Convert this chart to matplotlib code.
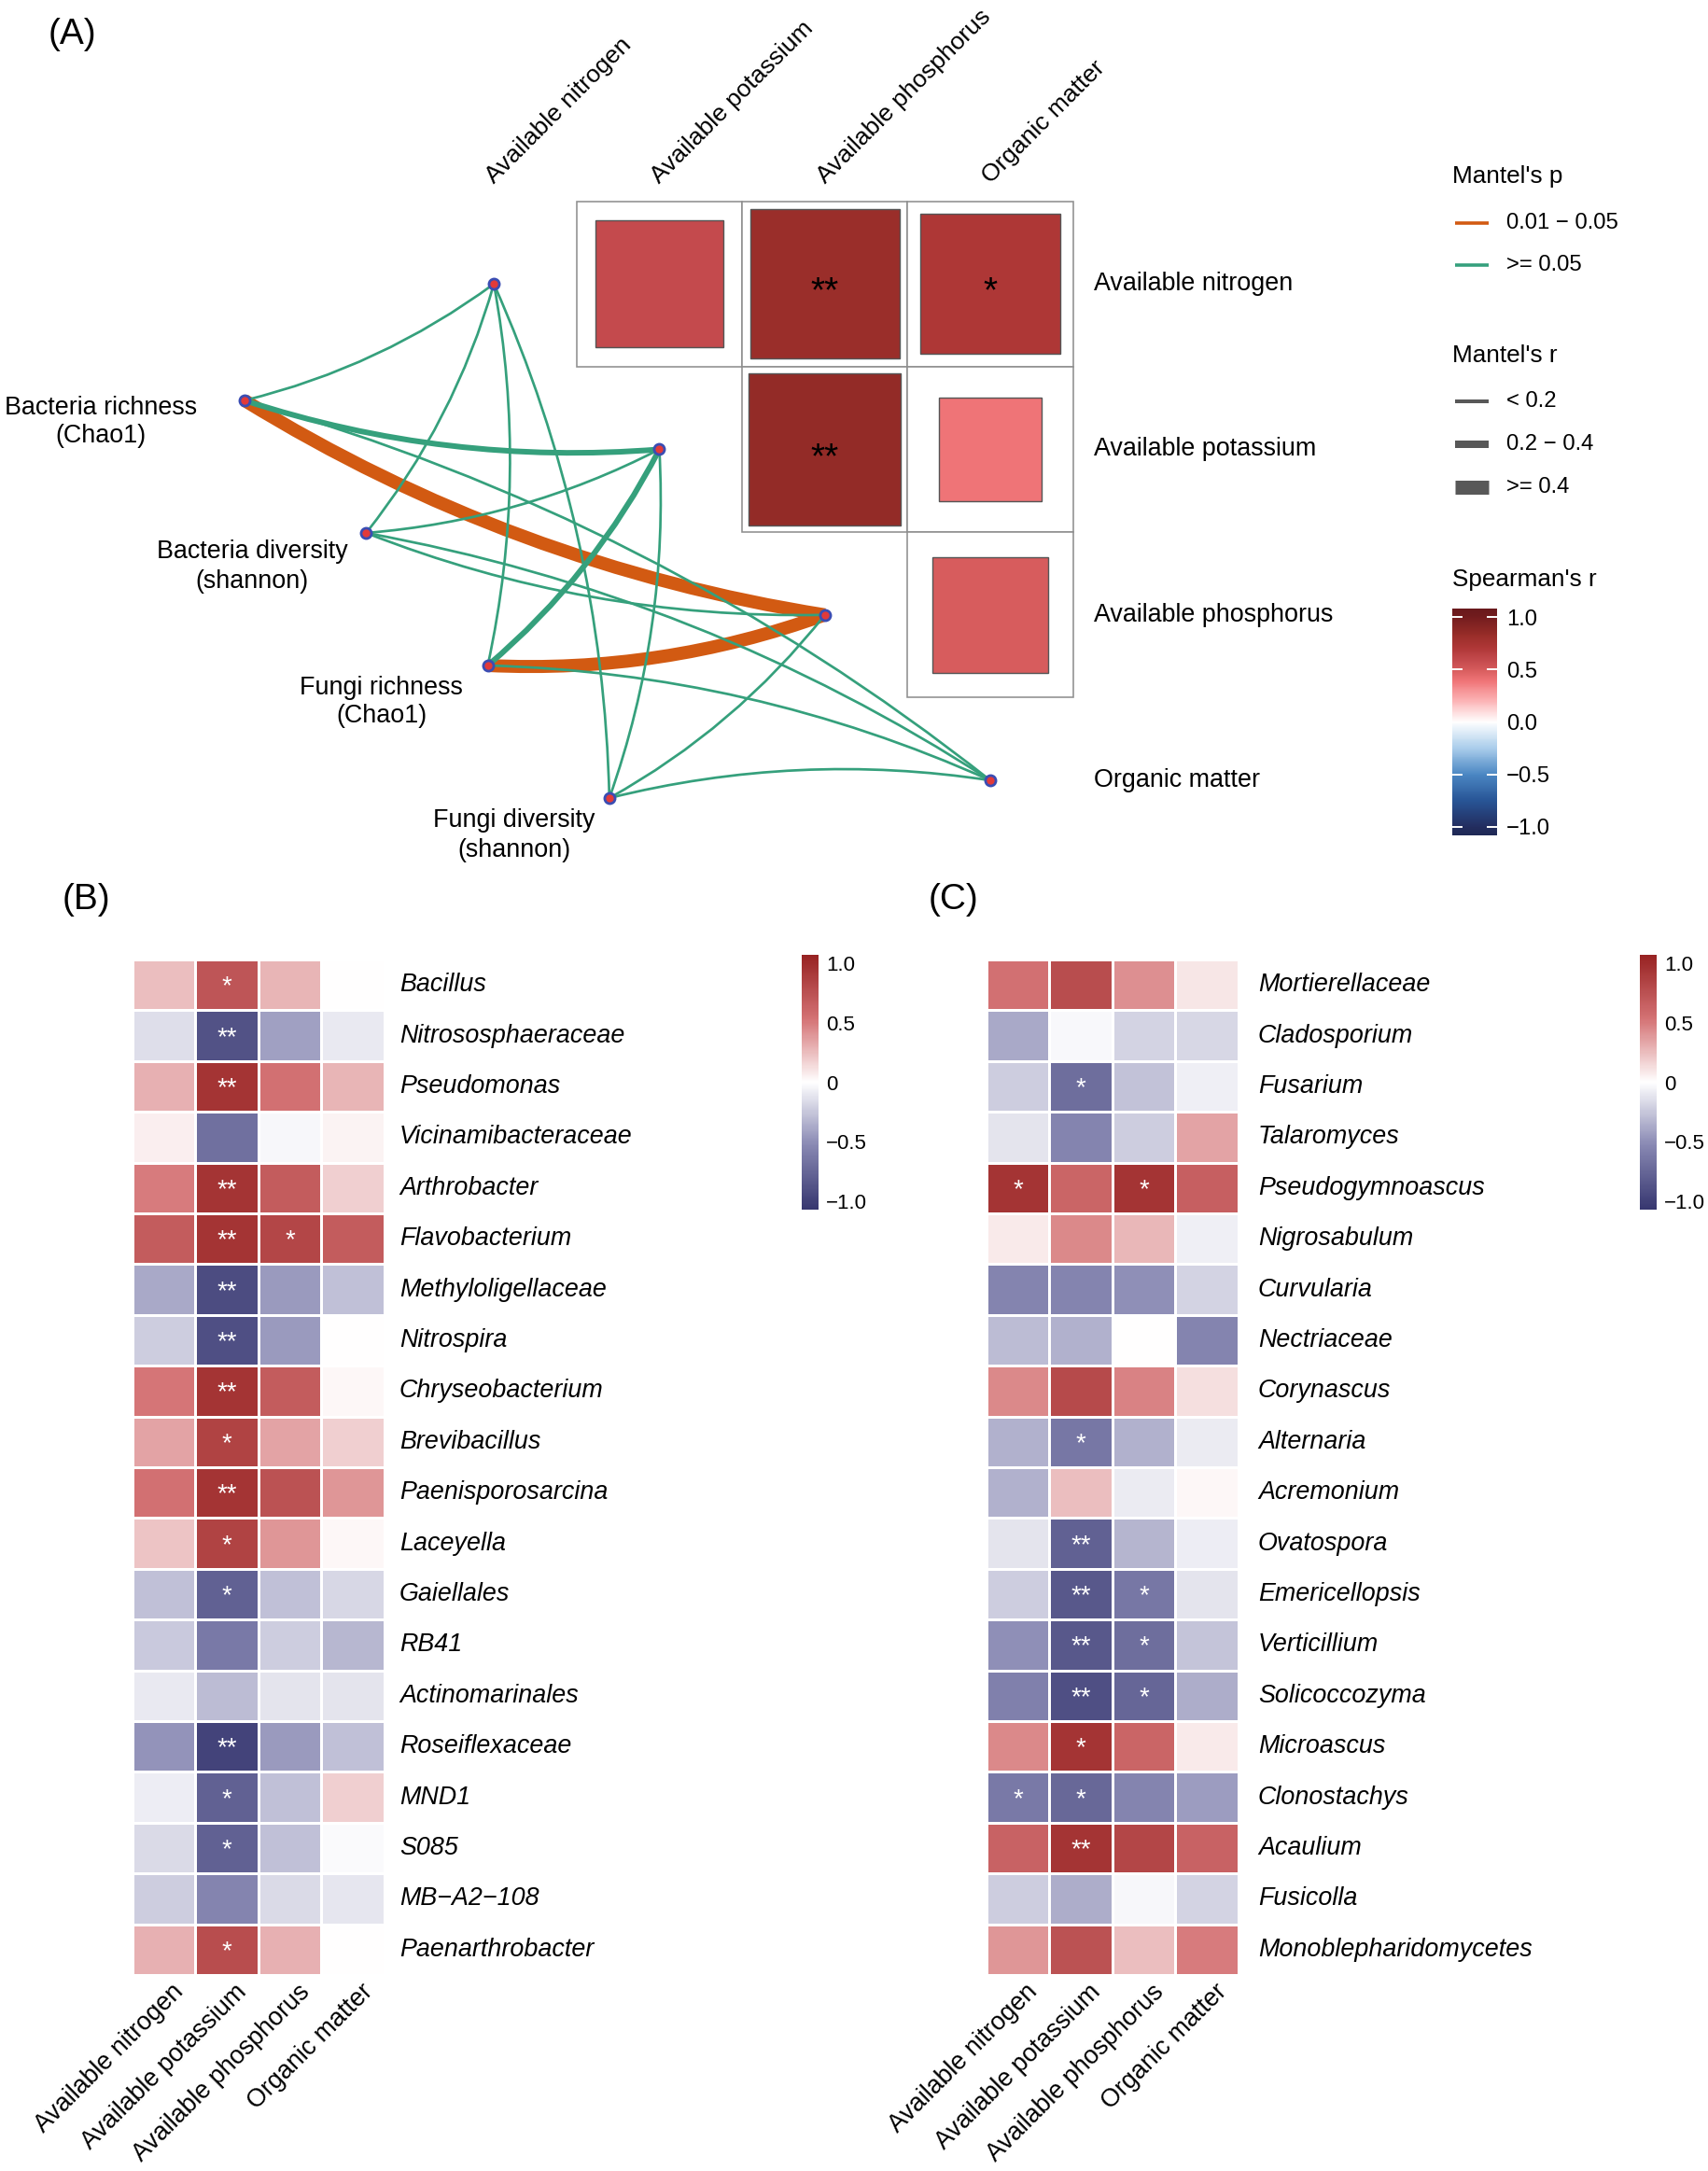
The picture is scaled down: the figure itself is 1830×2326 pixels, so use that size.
import numpy as np
import matplotlib
matplotlib.use("Agg")
import matplotlib.pyplot as plt
from matplotlib.colors import LinearSegmentedColormap, Normalize
from matplotlib.patches import Rectangle, PathPatch
from matplotlib.path import Path
import matplotlib.colorbar as mcolorbar

plt.rcParams['font.family'] = ['Liberation Sans', 'DejaVu Sans']

# ======================= DATA =======================
env_vars = ["Available nitrogen", "Available potassium", "Available phosphorus", "Organic matter"]
species_labels = ["Bacteria richness\n(Chao1)", "Bacteria diversity\n(shannon)",
                  "Fungi richness\n(Chao1)", "Fungi diversity\n(shannon)"]

# Spearman's r among soil properties (upper triangle pairs)
env_pairs = [(0, 1), (0, 2), (0, 3), (1, 2), (1, 3), (2, 3)]
env_r = [0.59, 0.81, 0.71, 0.85, 0.39, 0.49]
env_sig = ["", "**", "*", "**", "", ""]

# Mantel classes (rows: species, cols: env)  r: 0 "<0.2", 1 "0.2-0.4", 2 ">=0.4";  p: 0 "0.01-0.05", 1 ">=0.05"
mantel_r_class = [[0, 1, 2, 0], [0, 0, 0, 0], [0, 1, 2, 0], [0, 0, 0, 0]]
mantel_p_class = [[1, 1, 0, 1], [1, 1, 1, 1], [1, 1, 0, 1], [1, 1, 1, 1]]
mantel_r_labels = ["< 0.2", "0.2 \u2212 0.4", ">= 0.4"]
mantel_p_labels = ["0.01 \u2212 0.05", ">= 0.05"]
spearman_ticks = [1.0, 0.5, 0.0, -0.5, -1.0]
spearman_ticklabels = ["1.0", "0.5", "0.0", "\u22120.5", "\u22121.0"]

heat_cols = ["Available nitrogen", "Available potassium", "Available phosphorus", "Organic matter"]

bac_taxa = ["Bacillus", "Nitrososphaeraceae", "Pseudomonas", "Vicinamibacteraceae", "Arthrobacter",
            "Flavobacterium", "Methyloligellaceae", "Nitrospira", "Chryseobacterium", "Brevibacillus",
            "Paenisporosarcina", "Laceyella", "Gaiellales", "RB41", "Actinomarinales",
            "Roseiflexaceae", "MND1", "S085", "MB\u2212A2\u2212108", "Paenarthrobacter"]
bac_r = [
    [0.25, 0.72, 0.28, 0.00],
    [-0.15, -0.88, -0.42, -0.10],
    [0.30, 0.95, 0.55, 0.28],
    [0.06, -0.68, -0.04, 0.05],
    [0.50, 0.95, 0.68, 0.18],
    [0.68, 0.95, 0.82, 0.68],
    [-0.38, -0.92, -0.45, -0.28],
    [-0.22, -0.90, -0.45, 0.00],
    [0.52, 0.95, 0.68, 0.03],
    [0.35, 0.85, 0.35, 0.18],
    [0.55, 0.95, 0.75, 0.40],
    [0.22, 0.85, 0.40, 0.03],
    [-0.28, -0.78, -0.28, -0.18],
    [-0.24, -0.62, -0.22, -0.32],
    [-0.10, -0.30, -0.12, -0.12],
    [-0.48, -0.98, -0.45, -0.28],
    [-0.08, -0.78, -0.28, 0.18],
    [-0.16, -0.78, -0.28, -0.02],
    [-0.22, -0.56, -0.16, -0.11],
    [0.30, 0.78, 0.30, 0.00],
]
bac_sig = [
    ["", "*", "", ""], ["", "**", "", ""], ["", "**", "", ""], ["", "", "", ""],
    ["", "**", "", ""], ["", "**", "*", ""], ["", "**", "", ""], ["", "**", "", ""],
    ["", "**", "", ""], ["", "*", "", ""], ["", "**", "", ""], ["", "*", "", ""],
    ["", "*", "", ""], ["", "", "", ""], ["", "", "", ""], ["", "**", "", ""],
    ["", "*", "", ""], ["", "*", "", ""], ["", "", "", ""], ["", "*", "", ""],
]

fun_taxa = ["Mortierellaceae", "Cladosporium", "Fusarium", "Talaromyces", "Pseudogymnoascus",
            "Nigrosabulum", "Curvularia", "Nectriaceae", "Corynascus", "Alternaria",
            "Acremonium", "Ovatospora", "Emericellopsis", "Verticillium", "Solicoccozyma",
            "Microascus", "Clonostachys", "Acaulium", "Fusicolla", "Monoblepharidomycetes"]
fun_r = [
    [0.55, 0.78, 0.42, 0.10],
    [-0.38, -0.03, -0.20, -0.18],
    [-0.22, -0.70, -0.27, -0.07],
    [-0.12, -0.56, -0.22, 0.35],
    [0.95, 0.62, 0.95, 0.66],
    [0.08, 0.45, 0.27, -0.07],
    [-0.56, -0.56, -0.50, -0.20],
    [-0.30, -0.35, 0.00, -0.56],
    [0.45, 0.80, 0.47, 0.12],
    [-0.35, -0.64, -0.35, -0.09],
    [-0.35, 0.25, -0.09, 0.03],
    [-0.12, -0.78, -0.33, -0.08],
    [-0.22, -0.84, -0.64, -0.12],
    [-0.50, -0.84, -0.70, -0.26],
    [-0.58, -0.90, -0.75, -0.36],
    [0.45, 0.95, 0.62, 0.08],
    [-0.62, -0.74, -0.56, -0.44],
    [0.64, 0.95, 0.82, 0.64],
    [-0.22, -0.36, -0.04, -0.20],
    [0.40, 0.75, 0.25, 0.50],
]
fun_sig = [
    ["", "", "", ""], ["", "", "", ""], ["", "*", "", ""], ["", "", "", ""],
    ["*", "", "*", ""], ["", "", "", ""], ["", "", "", ""], ["", "", "", ""],
    ["", "", "", ""], ["", "*", "", ""], ["", "", "", ""], ["", "**", "", ""],
    ["", "**", "*", ""], ["", "**", "*", ""], ["", "**", "*", ""], ["", "*", "", ""],
    ["*", "*", "", ""], ["", "**", "", ""], ["", "", "", ""], ["", "", "", ""],
]
heat_ticks = [1.0, 0.5, 0.0, -0.5, -1.0]
heat_ticklabels = ["1.0", "0.5", "0", "\u22120.5", "\u22121.0"]

# ======================= STYLE / LAYOUT =======================
W, H, DPI = 1831, 2326, 200
PX = 72.0 / DPI           # points per pixel

fig = plt.figure(figsize=(W / DPI, H / DPI), dpi=DPI)
ax = fig.add_axes([0, 0, 1, 1])
ax.set_xlim(0, W)
ax.set_ylim(H, 0)
ax.axis('off')

ORANGE = '#D25A12'
GREEN = '#35A07C'
FS = 9.7

# Panel A colormap
a_lim = 1.08
a_stops = [(-1.08, (30, 40, 85)), (-1.0, (35, 45, 95)), (-0.75, (40, 85, 150)), (-0.5, (75, 135, 195)),
           (-0.25, (170, 205, 235)), (0.0, (255, 255, 255)), (0.2, (252, 180, 182)), (0.39, (240, 117, 120)),
           (0.49, (216, 93, 94)), (0.59, (196, 74, 77)), (0.71, (175, 55, 55)), (0.83, (152, 45, 40)),
           (1.0, (115, 28, 30)), (1.08, (105, 25, 28))]
cmapA = LinearSegmentedColormap.from_list(
    'A', [((v + a_lim) / (2 * a_lim), tuple(c / 255 for c in col)) for v, col in a_stops])
normA = Normalize(-a_lim, a_lim)

# heatmap colormap
h_lim = 1.07
cmapH = LinearSegmentedColormap.from_list(
    'H', [(0.0, '#36366F'), (0.25, '#8787B2'), (0.5, '#FFFFFF'), (0.75, '#D47274'), (1.0, '#972222')])
normH = Normalize(-h_lim, h_lim)

# ----------------------- Panel A -----------------------
cell = 177.3
gx0, gy0 = 440.5, 215.5
env_xy = [(gx0 + (i + 0.5) * cell, gy0 + (i + 0.5) * cell) for i in range(len(env_vars))]
sp_x0, sp_y0, sp_dx, sp_dy = 262.0, 429.0, 130.3, 142.0
sp_xy = [(sp_x0 + i * sp_dx, sp_y0 + i * sp_dy) for i in range(len(species_labels))]

for (i, j), r, s in zip(env_pairs, env_r, env_sig):
    x = gx0 + j * cell
    y = gy0 + i * cell
    ax.add_patch(Rectangle((x, y), cell, cell, fc='white', ec='#8f8f8f', lw=1.6 * PX, zorder=1))
    side = np.sqrt(abs(r)) * cell
    cx, cy = x + cell / 2, y + cell / 2
    ax.add_patch(Rectangle((cx - side / 2, cy - side / 2), side, side, fc=cmapA(normA(r)),
                           ec='#555555', lw=1.4 * PX, zorder=2))
    if s:
        em = 14 / PX
        ax.text(cx, cy + 0.50 * em, s, fontsize=14, ha='center', va='baseline', color='black', zorder=3)

# column labels (top, rotated) and row labels (right)
for j, name in enumerate(env_vars):
    cx = gx0 + (j + 0.5) * cell
    ax.text(cx + 4, gy0 - 14, name, rotation=45, rotation_mode='anchor', ha='left', va='bottom',
            fontsize=9.5, zorder=3)
    ax.text(gx0 + 4 * cell + 22, gy0 + (j + 0.5) * cell, name, ha='left', va='center', fontsize=FS)

# edges
widths_px = [2.7, 6.0, 14.0]
bend = [1, 1, 1, -1]           # curve side for each soil property
edges = []
for si in range(len(species_labels)):
    for ej in range(len(env_vars)):
        edges.append((si, ej))
edges.sort(key=lambda e: mantel_p_class[e[0]][e[1]])   # orange first, green on top
for si, ej in edges:
    (x1, y1), (x2, y2) = sp_xy[si], env_xy[ej]
    dx, dy = x2 - x1, y2 - y1
    L = np.hypot(dx, dy)
    px, py = -dy / L, dx / L
    k = 0.1 * L * bend[ej]
    cxp, cyp = (x1 + x2) / 2 + px * k, (y1 + y2) / 2 + py * k
    path = Path([(x1, y1), (cxp, cyp), (x2, y2)], [Path.MOVETO, Path.CURVE3, Path.CURVE3])
    col = ORANGE if mantel_p_class[si][ej] == 0 else GREEN
    lw = widths_px[mantel_r_class[si][ej]] * PX
    ax.add_patch(PathPatch(path, fc='none', ec=col, lw=lw, capstyle='butt', zorder=4))

# nodes
allx = [p[0] for p in sp_xy] + [p[0] for p in env_xy]
ally = [p[1] for p in sp_xy] + [p[1] for p in env_xy]
ax.scatter(allx, ally, s=16, c='#E23A3A', edgecolors='#3B4DB3', linewidths=1.0, zorder=6)

# species labels
lab_off = [(-154, 23), (-122, 36), (-114, 39), (-102, 40)]
for (x, y), name, (ox, oy) in zip(sp_xy, species_labels, lab_off):
    ax.text(x + ox, y + oy, name, ha='center', va='center', multialignment='center',
            linespacing=1.25, fontsize=FS)

# legends
lx_title, lx_line0, lx_line1, lx_text = 1556, 1559, 1595, 1614
ax.text(lx_title, 189, "Mantel's p", fontsize=9.4, ha='left', va='center')
for k, (lab, col) in enumerate(zip(mantel_p_labels, [ORANGE, GREEN])):
    yy = 239 + k * 45
    ax.plot([lx_line0, lx_line1], [yy, yy], color=col, lw=3.6 * PX, solid_capstyle='butt')
    ax.text(lx_text, yy, lab, fontsize=8.6, ha='left', va='center')
ax.text(lx_title, 381, "Mantel's r", fontsize=9.4, ha='left', va='center')
leg_w = [4.0, 8.0, 15.0]
for k, lab in enumerate(mantel_r_labels):
    yy = 430 + k * 46
    ax.plot([lx_line0, lx_line1], [yy, yy], color='#585858', lw=leg_w[k] * PX, solid_capstyle='butt')
    ax.text(lx_text, yy, lab, fontsize=8.6, ha='left', va='center')
ax.text(lx_title, 621, "Spearman's r", fontsize=9.4, ha='left', va='center')

caxA = fig.add_axes([1556 / W, 1 - 895 / H, 48 / W, 243 / H])
cbA = mcolorbar.ColorbarBase(caxA, cmap=cmapA, norm=normA, orientation='vertical')
cbA.outline.set_visible(False)
cbA.set_ticks(spearman_ticks)
cbA.set_ticklabels(spearman_ticklabels)
caxA.tick_params(length=0, pad=3.5, labelsize=8.6)
for v in spearman_ticks:
    caxA.plot([0, 0.2], [v, v], color='white', lw=0.7)
    caxA.plot([0.8, 1], [v, v], color='white', lw=0.7)
caxA.set_xlim(0, 1)

# ----------------------- Panels B & C -----------------------
cw, rh = 67.5, 54.4
hy0 = 1028.0


def draw_heat(x0, taxa, vals, sig, lab_dx, cbar_x):
    X = x0 + np.arange(len(heat_cols) + 1) * cw
    Y = hy0 + np.arange(len(taxa) + 1) * rh
    ax.pcolormesh(X, Y, np.array(vals), cmap=cmapH, norm=normH, edgecolors='white',
                  linewidth=1.0, zorder=2)
    em = 10 / PX
    for i, row in enumerate(sig):
        for j, s in enumerate(row):
            if s:
                ax.text(x0 + (j + 0.5) * cw, hy0 + (i + 0.5) * rh + 0.33 * em, s, color='white',
                        fontsize=10, ha='center', va='baseline', zorder=3)
    for i, name in enumerate(taxa):
        ax.text(x0 + len(heat_cols) * cw + lab_dx, hy0 + (i + 0.5) * rh, name, style='italic',
                ha='left', va='center', fontsize=FS)
    bottom = hy0 + len(taxa) * rh
    for j, name in enumerate(heat_cols):
        ax.text(x0 + (j + 0.5) * cw + 8, bottom + 5, name, rotation=45, rotation_mode='anchor',
                ha='right', va='top', fontsize=FS)
    cax = fig.add_axes([cbar_x / W, 1 - 1296 / H, 18 / W, 273 / H])
    cb = mcolorbar.ColorbarBase(cax, cmap=cmapH, norm=normH, orientation='vertical')
    cb.outline.set_visible(False)
    cb.set_ticks(heat_ticks)
    cb.set_ticklabels(heat_ticklabels)
    cax.tick_params(length=0, pad=3, labelsize=8)


draw_heat(142.0, bac_taxa, bac_r, bac_sig, 16, 859)
draw_heat(1057.0, fun_taxa, fun_r, fun_sig, 21, 1757)

# panel labels
ax.text(77, 37, "(A)", fontsize=14, ha='center', va='center')
ax.text(92, 964, "(B)", fontsize=14, ha='center', va='center')
ax.text(1022, 964, "(C)", fontsize=14, ha='center', va='center')

fig.savefig("out.png", dpi=DPI)
